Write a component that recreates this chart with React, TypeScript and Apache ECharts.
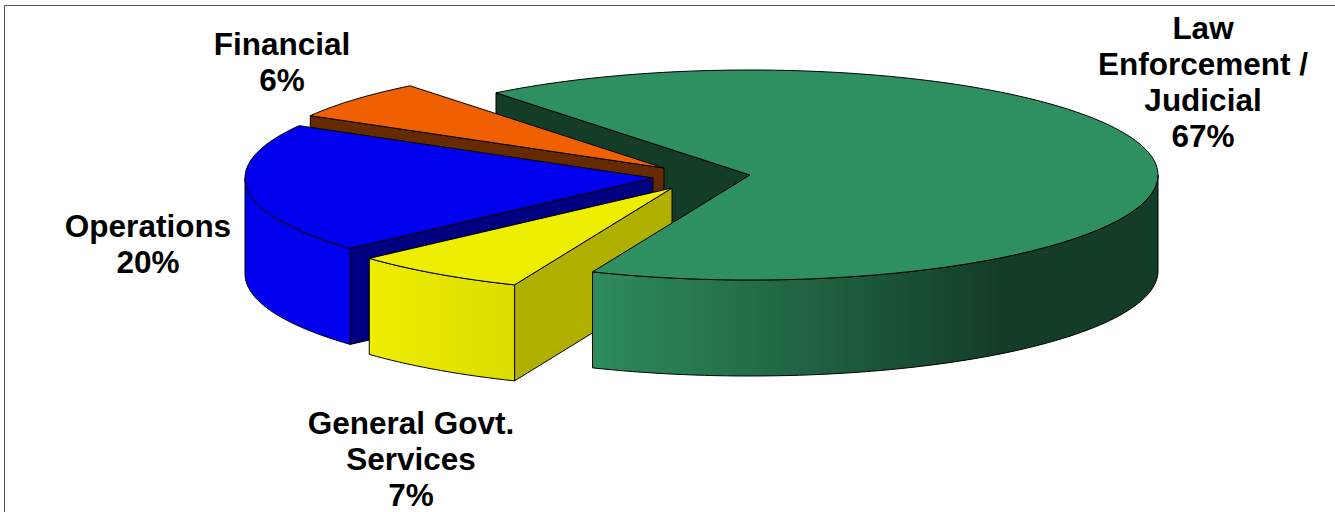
import React, { useEffect, useRef } from "react";
import * as echarts from "echarts";

// Budget shares, in percent, in the order the slices run clockwise from the back edge.
const categories = ["Law\nEnforcement /\nJudicial", "General Govt.\nServices", "Operations", "Financial"];
const shares = [67, 7, 20, 6];

// Slice colours: top face, wall start, wall end, cut face.
const topColors = ["#2E8F60", "#EEEE00", "#0000EE", "#F06000"];
const wallStartColors = ["#2D8C5E", "#EEEE00", "#0000EE", "#F06000"];
const wallEndColors = ["#143D28", "#DCDC00", "#0000EE", "#F06000"];
const cutColors = ["#143D28", "#B0B000", "#000080", "#662A00"];

// Where each slice's apex sits once pulled out of the pie.
const apexX = [750, 672, 653, 664];
const apexY = [175, 188, 178, 168];

// Centre of each multi-line label.
const labelX = [1203, 411, 148, 282];
const labelY = [82, 459, 244, 62];

const RX = 408;
const RY = 105;
const DEPTH = 96;
const START_DEG = 128.5;
const WALL_SHADE_SPAN = 407;

const rad = (d: number) => (d * Math.PI) / 180;

function arcPoints(cx: number, cy: number, from: number, to: number, dy = 0) {
  const n = Math.max(2, Math.ceil(Math.abs(to - from) / 1.5));
  const pts: number[][] = [];
  for (let i = 0; i <= n; i++) {
    const t = rad(from + ((to - from) * i) / n);
    pts.push([cx + RX * Math.cos(t), cy - RY * Math.sin(t) + dy]);
  }
  return pts;
}

const sweeps = shares.map((s) => (s / 100) * 360);
const starts = sweeps.map((_, i) => START_DEG - sweeps.slice(0, i).reduce((a, b) => a + b, 0));

// Portion of a clockwise sweep that lies on the near half of the ellipse.
function nearRanges(from: number, to: number) {
  const out: [number, number][] = [];
  for (let k = -2; k <= 1; k++) {
    const hi = Math.min(from, 360 * k);
    const lo = Math.max(to, 360 * k - 180);
    if (hi > lo) out.push([hi, lo]);
  }
  return out;
}

const edge = { stroke: "#000", lineWidth: 1, lineJoin: "round" as const };

function renderSlice(params: any, api: any) {
  const i = params.dataIndex;
  const from = starts[i];
  const to = from - (api.value(0) / 100) * 360;
  const cx = apexX[i];
  const cy = apexY[i];
  // Paint back to front; the largest slice's cut face stays behind everything else.
  const rank = (shares.length - i) % shares.length || shares.length;
  const children: any[] = [];

  if (Math.cos(rad(from)) < 0) {
    const t = rad(from);
    const ex = cx + RX * Math.cos(t);
    const ey = cy - RY * Math.sin(t);
    children.push({
      type: "polygon",
      z2: i === 0 ? 0 : rank * 10,
      shape: { points: [[cx, cy], [ex, ey], [ex, ey + DEPTH], [cx, cy + DEPTH]] },
      style: { ...edge, fill: cutColors[i] },
    });
  }

  nearRanges(from, to).forEach(([a, b]) => {
    const upper = arcPoints(cx, cy, a, b);
    const lower = arcPoints(cx, cy, b, a, DEPTH);
    const xs = upper.map((p) => p[0]);
    const x0 = Math.min(...xs);
    const x1 = i === 0 ? x0 + WALL_SHADE_SPAN : Math.max(...xs);
    children.push({
      type: "polygon",
      z2: rank * 10 + 1,
      shape: { points: [...upper, ...lower] },
      style: {
        ...edge,
        fill: {
          type: "linear",
          global: true,
          x: x0,
          y: 0,
          x2: x1,
          y2: 0,
          colorStops: [
            { offset: 0, color: wallStartColors[i] },
            { offset: 1, color: wallEndColors[i] },
          ],
        },
      },
    });
  });

  children.push({
    type: "polygon",
    z2: rank * 10 + 2,
    shape: { points: [[cx, cy], ...arcPoints(cx, cy, from, to)] },
    style: { ...edge, fill: topColors[i] },
  });

  return { type: "group", children };
}

export default function App() {
  const ref = useRef<HTMLDivElement>(null);

  useEffect(() => {
    document.body.style.margin = "0";
    const chart = echarts.init(ref.current!, undefined, { renderer: "svg" });
    chart.setOption({
      animation: false,
      backgroundColor: "#fff",
      graphic: [
        {
          type: "polyline",
          shape: { points: [[4.5, 512], [4.5, 5.5], [1335, 5.5]] },
          style: { stroke: "#555", lineWidth: 1, fill: "none" },
        },
        ...categories.map((name, i) => ({
          type: "text",
          x: labelX[i],
          y: labelY[i],
          style: {
            text: `${name}\n${shares[i]}%`,
            fontFamily: "Liberation Sans",
            fontWeight: "bold",
            fontSize: 31.5,
            lineHeight: 36,
            fill: "#000",
            align: "center",
            verticalAlign: "middle",
          },
        })),
      ],
      series: [
        {
          type: "custom",
          coordinateSystem: "none",
          silent: true,
          renderItem: renderSlice,
          data: shares.map((v, i) => ({ name: categories[i], value: [v] })),
        },
      ],
    });
    return () => chart.dispose();
  }, []);

  return <div ref={ref} style={{ position: "fixed", left: 0, top: 0, width: 1335, height: 512 }} />;
}
